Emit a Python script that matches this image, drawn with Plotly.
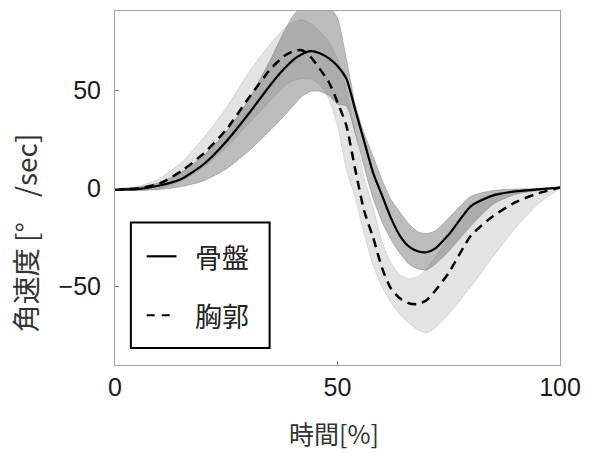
import plotly.graph_objects as go

# Gait-cycle time [%]
time_pct = [0, 5, 10, 15, 20, 25, 30, 35, 38, 40, 42, 44, 46, 48, 50, 52, 54,
            56, 58, 60, 62, 64, 66, 68, 70, 72, 75, 80, 85, 90, 95, 100]

# Pelvis (骨盤) angular velocity: mean and band limits [deg/sec]
pelvis_mean = [-0.5, -0.3, 1.5, 5, 12.5, 24, 38, 53, 61, 65.5, 68.5, 70, 69, 66.5, 62.5, 56, 40,
               24, 8, -3.5, -15, -24, -29.5, -32, -32.5, -30.5, -23.5, -9, -3.5, -1.5, -0.5, 0.5]
pelvis_upper = [0, 0.5, 3, 8.5, 17, 29, 45, 66, 80, 88, 93, 96, 97, 93, 87, 66, 43,
                28, 16.5, 4.5, -5.5, -12, -18, -22, -23, -21.5, -15, -4, -1, -0.3, 0, 0.5]
pelvis_lower = [-1, -1, -0.5, 1, 4, 10, 19, 30, 37, 42, 47, 49.5, 49.5, 47.5, 43, 42, 28,
                11, -5, -17, -26, -33, -38.5, -41, -41.5, -38.5, -32, -19, -8, -3, -1, 0.3]

# Thorax (胸郭) angular velocity: mean and band limits [deg/sec]
thorax_mean = [-0.5, 0, 2.5, 9, 18, 30, 46, 61, 67.5, 70, 70.5, 67, 61, 54.5, 44, 32, 9.5,
               -11.5, -25, -40.5, -51, -56, -58.5, -59, -57, -52, -43, -24, -14, -7, -2.5, 0.5]
thorax_upper = [0, 1, 5, 13.5, 26, 41, 59, 74, 81.5, 84.5, 86, 84, 80, 75, 66, 50, 28,
                5, -10, -27, -38, -44, -46, -45, -41, -35, -25, -8, -3, -1, -0.5, 0.5]
thorax_lower = [-1, -1, 0, 4, 11, 21, 33, 45, 52, 55, 56, 56, 53, 46, 32, 10, -5,
                -23, -39, -50, -58, -64, -68.5, -72, -73.5, -71, -64, -50, -34.5, -20, -8, 0.3]

x_ticks = [0, 50, 100]
y_ticks = [-50, 0, 50]
legend_names = ["骨盤", "胸郭"]

SANS = "Liberation Sans, Arial, sans-serif"
CJK = "Noto Sans CJK JP, sans-serif"


def band(x, upper, lower, fill, edge):
    return go.Scatter(
        x=list(x) + list(x)[::-1],
        y=list(upper) + list(lower)[::-1],
        fill="toself", fillcolor=fill,
        line=dict(color=edge, width=0.8, shape="spline", smoothing=0.6),
        mode="lines", hoverinfo="skip", showlegend=False,
    )


fig = go.Figure()
fig.add_trace(band(time_pct, thorax_upper, thorax_lower, "#e3e3e3", "#cfcfcf"))
fig.add_trace(band(time_pct, pelvis_upper, pelvis_lower, "rgba(95,95,95,0.42)", "rgba(110,110,110,0.5)"))
fig.add_trace(go.Scatter(x=time_pct, y=thorax_mean, mode="lines", showlegend=False,
                         line=dict(color="black", width=2.5, dash="9px,6px",
                                   shape="spline", smoothing=0.6)))
fig.add_trace(go.Scatter(x=time_pct, y=pelvis_mean, mode="lines", showlegend=False,
                         line=dict(color="black", width=2.2, shape="spline", smoothing=0.6)))

# Framed legend drawn inside the axes
L, T_, W_AX, H_AX = 115, 10, 449, 355


def px(xp):
    return (xp - L) / W_AX


def py(yp):
    return (T_ + H_AX - yp) / H_AX


shapes = [
    dict(type="rect", xref="paper", yref="paper", x0=px(131), x1=px(271), y0=py(348), y1=py(222),
         line=dict(color="black", width=2), fillcolor="white", layer="above"),
    dict(type="line", xref="paper", yref="paper", x0=px(147), x1=px(177), y0=py(256), y1=py(256),
         line=dict(color="black", width=2.2), layer="above"),
    dict(type="line", xref="paper", yref="paper", x0=px(147), x1=px(171), y0=py(315), y1=py(315),
         line=dict(color="black", width=2, dash="8px,7px"), layer="above"),
]

annotations = [
    dict(xref="paper", yref="paper", x=px(194), y=py(256), text=legend_names[0], showarrow=False,
         xanchor="left", yanchor="middle", font=dict(family=CJK, size=27, color="#222")),
    dict(xref="paper", yref="paper", x=px(194), y=py(315), text=legend_names[1], showarrow=False,
         xanchor="left", yanchor="middle", font=dict(family=CJK, size=27, color="#222")),
    dict(xref="paper", yref="paper", x=px(336), y=py(433), text="時間[%]", showarrow=False,
         xanchor="center", yanchor="middle", font=dict(family=CJK, size=25, color="#333")),
    dict(xref="paper", yref="paper", x=px(25), y=py(232), text="角速度 [°\u00a0\u00a0\u00a0\u00a0/sec]",
         showarrow=False, textangle=-90, xanchor="center", yanchor="middle",
         font=dict(family=CJK, size=28, color="#333")),
]

fig.update_layout(
    width=591, height=453,
    margin=dict(l=L, r=591 - L - W_AX, t=T_, b=453 - T_ - H_AX),
    paper_bgcolor="white", plot_bgcolor="white",
    shapes=shapes, annotations=annotations, showlegend=False,
)
fig.update_xaxes(range=[0, 100], tickvals=x_ticks, ticks="inside", ticklen=4, tickcolor="#888",
                 showline=True, linecolor="#a0a0a0", linewidth=1, mirror=True, showgrid=False,
                 zeroline=False, tickfont=dict(family=SANS, size=25, color="#1a1a1a"))
fig.update_yaxes(range=[-90, 90.5], tickvals=y_ticks, ticks="inside", ticklen=4, tickcolor="#888",
                 showline=True, linecolor="#a0a0a0", linewidth=1, mirror=True, showgrid=False,
                 zeroline=False, ticklabelstandoff=8,
                 tickfont=dict(family=SANS, size=25, color="#1a1a1a"))

fig.write_html("out.html")
